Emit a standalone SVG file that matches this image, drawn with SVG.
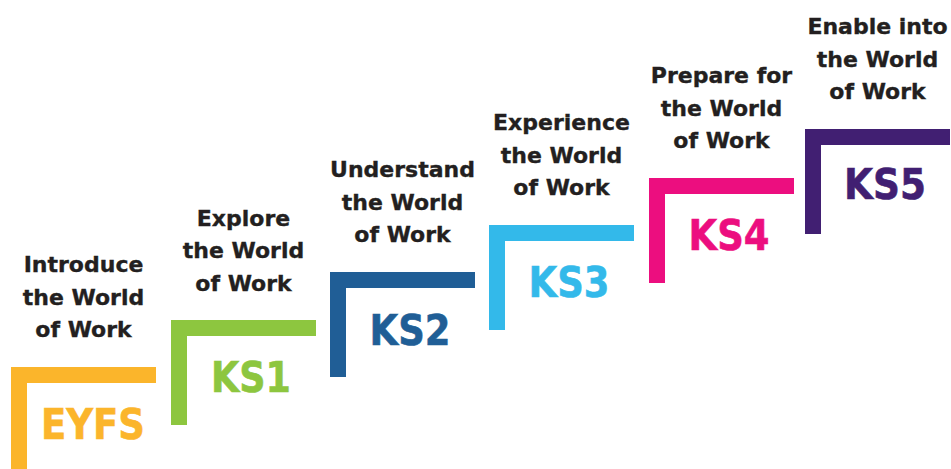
<svg xmlns="http://www.w3.org/2000/svg" width="951" height="469" viewBox="0 0 951 469">
<style>
.lbl{font-family:"DejaVu Sans","Liberation Sans",sans-serif;font-weight:bold;font-size:22px;fill:#231F20;stroke:#231F20;stroke-width:0.35px;text-anchor:middle}
.ks{font-family:"DejaVu Sans","Liberation Sans",sans-serif;font-weight:bold;font-size:42px;stroke-width:0.6px;text-anchor:middle}
</style>
<rect width="951" height="469" fill="#ffffff"/>
<g id="eyfs">
<path d="M11 367h145v16h-129v89h-16z" fill="#FBB52B"/>
<text class="ks" x="93" y="439" fill="#FBB52B" stroke="#FBB52B" textLength="104" lengthAdjust="spacingAndGlyphs">EYFS</text>
<text class="lbl" x="83.5" y="272"><tspan x="83.5">Introduce</tspan><tspan x="83.5" dy="32.5">the World</tspan><tspan x="83.5" dy="32.5">of Work</tspan></text>
</g>
<g id="ks1">
<path d="M171 320h145v16h-129v89h-16z" fill="#8DC63F"/>
<text class="ks" x="251" y="392" fill="#8DC63F" stroke="#8DC63F" textLength="80" lengthAdjust="spacingAndGlyphs">KS1</text>
<text class="lbl" x="243.5" y="225.5"><tspan x="243.5">Explore</tspan><tspan x="243.5" dy="32.5">the World</tspan><tspan x="243.5" dy="32.5">of Work</tspan></text>
</g>
<g id="ks2">
<path d="M330 272h145v16h-129v89h-16z" fill="#205E96"/>
<text class="ks" x="410" y="345" fill="#205E96" stroke="#205E96" textLength="81" lengthAdjust="spacingAndGlyphs">KS2</text>
<text class="lbl" x="402.5" y="177"><tspan x="402.5">Understand</tspan><tspan x="402.5" dy="32.5">the World</tspan><tspan x="402.5" dy="32.5">of Work</tspan></text>
</g>
<g id="ks3">
<path d="M489 225h145v16h-129v89h-16z" fill="#33B9EA"/>
<text class="ks" x="569" y="297" fill="#33B9EA" stroke="#33B9EA" textLength="81" lengthAdjust="spacingAndGlyphs">KS3</text>
<text class="lbl" x="561.5" y="130"><tspan x="561.5">Experience</tspan><tspan x="561.5" dy="32.5">the World</tspan><tspan x="561.5" dy="32.5">of Work</tspan></text>
</g>
<g id="ks4">
<path d="M649 178h145v16h-129v89h-16z" fill="#EC0E7F"/>
<text class="ks" x="729" y="250" fill="#EC0E7F" stroke="#EC0E7F" textLength="81" lengthAdjust="spacingAndGlyphs">KS4</text>
<text class="lbl" x="721.5" y="83"><tspan x="721.5">Prepare for</tspan><tspan x="721.5" dy="32.5">the World</tspan><tspan x="721.5" dy="32.5">of Work</tspan></text>
</g>
<g id="ks5">
<path d="M805 129h145v16h-129v89h-16z" fill="#411F72"/>
<text class="ks" x="885" y="199" fill="#411F72" stroke="#411F72" textLength="82" lengthAdjust="spacingAndGlyphs">KS5</text>
<text class="lbl" x="877.5" y="34"><tspan x="877.5">Enable into</tspan><tspan x="877.5" dy="32.5">the World</tspan><tspan x="877.5" dy="32.5">of Work</tspan></text>
</g>
<g id="connectors"></g>
</svg>
